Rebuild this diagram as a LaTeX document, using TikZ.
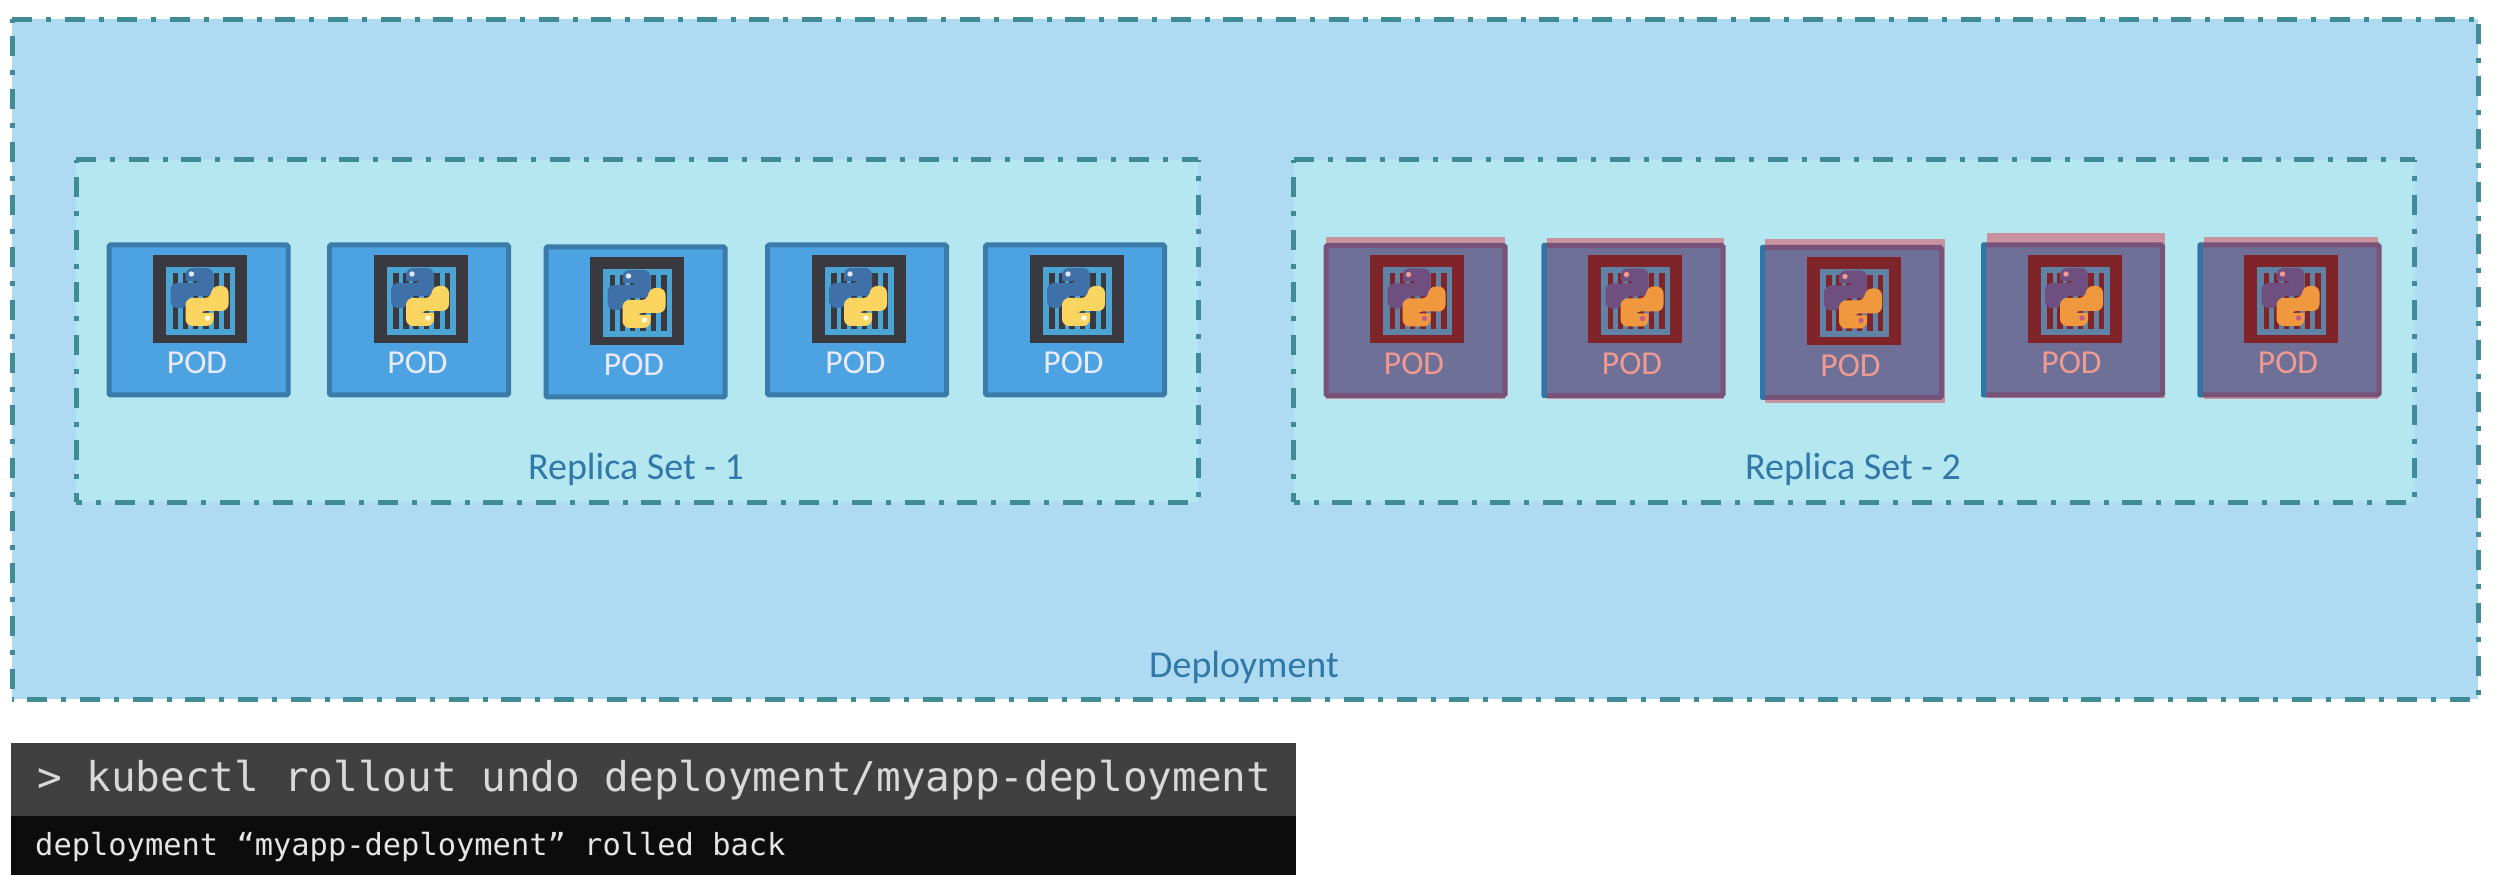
\documentclass[tikz,border=0pt]{standalone}
\usepackage{fontspec}
\setmainfont{Carlito}
\newfontfamily\termfont{DejaVu Sans Mono}
\definecolor{deplfill}{HTML}{AEDBF2}
\definecolor{rsfill}{HTML}{B4E7F0}
\definecolor{dashcol}{HTML}{3F8C97}
\definecolor{labelcol}{HTML}{2F78A8}
\definecolor{bluepodfill}{HTML}{4DA3E2}
\definecolor{bluepodedge}{HTML}{3B7BAA}
\definecolor{blueicon}{HTML}{3A393F}
\definecolor{blueframe}{HTML}{4AA5D5}
\definecolor{bluesnake}{HTML}{3F70A8}
\definecolor{yellowsnake}{HTML}{FBD560}
\definecolor{redpodfill}{HTML}{6F7098}
\definecolor{redpodedge}{HTML}{77537A}
\definecolor{redicon}{HTML}{7F2428}
\definecolor{redframe}{HTML}{5F82A5}
\definecolor{redsnakeA}{HTML}{6F4F80}
\definecolor{redsnakeB}{HTML}{F0983E}
\definecolor{redtext}{HTML}{F09A90}
\definecolor{pinkbar}{HTML}{C8939F}
\definecolor{sidestripe}{HTML}{2F76A8}
\definecolor{termtop}{HTML}{404040}
\definecolor{termbot}{HTML}{0C0C0C}
\tikzset{
  x=1pt,y=-1pt,
  areabox/.style={rectangle,inner sep=0pt,outer sep=0pt,draw=none},
  dashside/.style={draw=dashcol,line width=5pt,dash pattern=on 20pt off 14pt on 5pt off 13.67pt,dash phase=#1},
  boxlabel/.style={font=\fontsize{38}{38}\selectfont,text=labelcol,inner sep=0pt},
  podbox/.style={rectangle,inner sep=0pt,outer sep=0pt,minimum width=179pt,minimum height=150pt,line width=5pt,rounded corners=1.5pt},
  podtext/.style={font=\fontsize{33.5}{33.5}\selectfont,inner sep=0pt},
  termtext/.style={inner sep=0pt,anchor=base west,font=\termfont\fontsize{#1}{#1}\selectfont}
}
% logo half, centred on the logo, y downward
\newcommand\snakehalf[1]{%
  \fill[#1,rounded corners=7pt] (-14,-16) -- (-14,-29) -- (14,-29) -- (14,-1) -- (-12,-1) -- (-12,11) -- (-29,11) -- (-29,-14) -- (1,-14) [sharp corners] -- (1,-16) -- cycle;}
% #1 node name  #2 edge  #3 fill  #4 icon  #5 frame  #6 snake a  #7 snake b  #8 eye a  #9 eye b
\newcommand\podicon[9]{%
  \begin{scope}[shift={(#1.center)}]
    \fill[#4] (-45.5,-65) rectangle (48.5,23);
    \fill[#5] (-32.5,-53) rectangle (36.5,15);
    \foreach \bx in {-26,-16,-6,4.5,15,25.5} {\fill[#4] (\bx,-47) rectangle (\bx+5.5,9);}
    \begin{scope}[shift={(1,-23)}]
      \snakehalf{#6}
      \fill[#8] (-8,-23) circle (2.7);
      \begin{scope}[rotate=180]\snakehalf{#7}\end{scope}
      \fill[#9] (8,21) circle (2.7);
    \end{scope}
  \end{scope}}
\newcommand\bluepod[3]{%
  \node[podbox,draw=bluepodedge,fill=bluepodfill] (#1) at (#2,#3) {};
  \podicon{#1}{}{}{blueicon}{blueframe}{bluesnake}{yellowsnake}{white!90!blue}{white!90!yellow}
  \node[podtext,text=white!92!blue] (#1t) at ([xshift=-1.5pt,yshift=-43pt]#1.center) {POD};}
% #1 name #2 cx #3 cy #4 bar left #5 bar right #6 bar top #7 bottom of pink #8 stripe width
\newcommand\redpod[8]{%
  \fill[pinkbar] (#4,#6) rectangle (#5,#7);
  \node[podbox,draw=redpodedge,fill=redpodfill] (#1) at (#2,#3) {};
  \ifnum#8>0 \fill[sidestripe,rounded corners=1.5pt] ([xshift=-2.5pt,yshift=2.5pt]#1.north west) rectangle ([xshift=#8pt-2.5pt,yshift=-2.5pt]#1.south west);\fi
  \podicon{#1}{}{}{redicon}{redframe}{redsnakeA}{redsnakeB}{redtext}{violet!40!redtext}
  \node[podtext,text=redtext] (#1t) at ([xshift=-1.5pt,yshift=-43pt]#1.center) {POD};}
\begin{document}
\begin{tikzpicture}
\useasboundingbox (0,0) rectangle (2503,882);
\fill[white] (0,0) rectangle (2503,882);

% deployment area
\node[areabox,fill=deplfill,minimum width=2466pt,minimum height=679.5pt] (deploy) at (1245,359.25) {};
\draw[dashside=0]     (deploy.north west) -- (deploy.north east);
\draw[dashside=35.67] (deploy.north west) -- (deploy.south west);
\draw[dashside=48.5]  (deploy.north east) -- (deploy.south east);
\draw[dashside=37.5]  (deploy.south west) -- (deploy.south east);

% replica set 1
\node[areabox,fill=rsfill,minimum width=1122pt,minimum height=342pt] (rsone) at (637,331) {};
\draw[dashside=0]     (rsone.north west) -- (rsone.north east);
\draw[dashside=35.67] (rsone.north west) -- (rsone.south west);
\draw[dashside=18]    (rsone.north east) -- (rsone.south east);
\draw[dashside=14]    (rsone.south west) -- (rsone.south east);

% replica set 2
\node[areabox,fill=rsfill,minimum width=1121pt,minimum height=342pt] (rstwo) at (1854,331) {};
\draw[dashside=0]     (rstwo.north west) -- (rstwo.north east);
\draw[dashside=35.67] (rstwo.north west) -- (rstwo.south west);
\draw[dashside=18]    (rstwo.north east) -- (rstwo.south east);
\draw[dashside=14]    (rstwo.south west) -- (rstwo.south east);

\node[boxlabel] (ldeploy) at (1244,667) {Deployment};
\node[boxlabel] (lrsone) at (636,469) {Replica Set - 1};
\node[boxlabel] (lrstwo) at (1853,469) {Replica Set - 2};

% blue pods
\bluepod{podA}{198.5}{320}
\bluepod{podB}{419}{320}
\bluepod{podC}{635.5}{322}
\bluepod{podD}{857}{320}
\bluepod{podE}{1075}{320}

% red pods
\redpod{podF}{1415.5}{320.5}{1326}{1505}{237}{399}{0}
\redpod{podG}{1633.5}{320.5}{1547}{1724}{238}{399}{5}
\redpod{podH}{1852}{322.5}{1765}{1945}{239}{403}{5}
\redpod{podI}{2073}{320}{1987}{2165}{233}{398}{5}
\redpod{podJ}{2289.5}{320}{2204}{2378}{237}{399}{5}

% terminal
\node[areabox,fill=termtop,minimum width=1285pt,minimum height=73pt] (termA) at (653,779.5) {};
\node[areabox,fill=termbot,minimum width=1285pt,minimum height=59pt] (termB) at (653,845.5) {};
\node[termtext=41,text=black!15] (cmd) at (37,791) {> kubectl rollout undo deployment/myapp-deployment};
\node[termtext=30.4,text=black!10] (out) at (35,855) {deployment “myapp-deployment” rolled back};
\end{tikzpicture}
\end{document}
